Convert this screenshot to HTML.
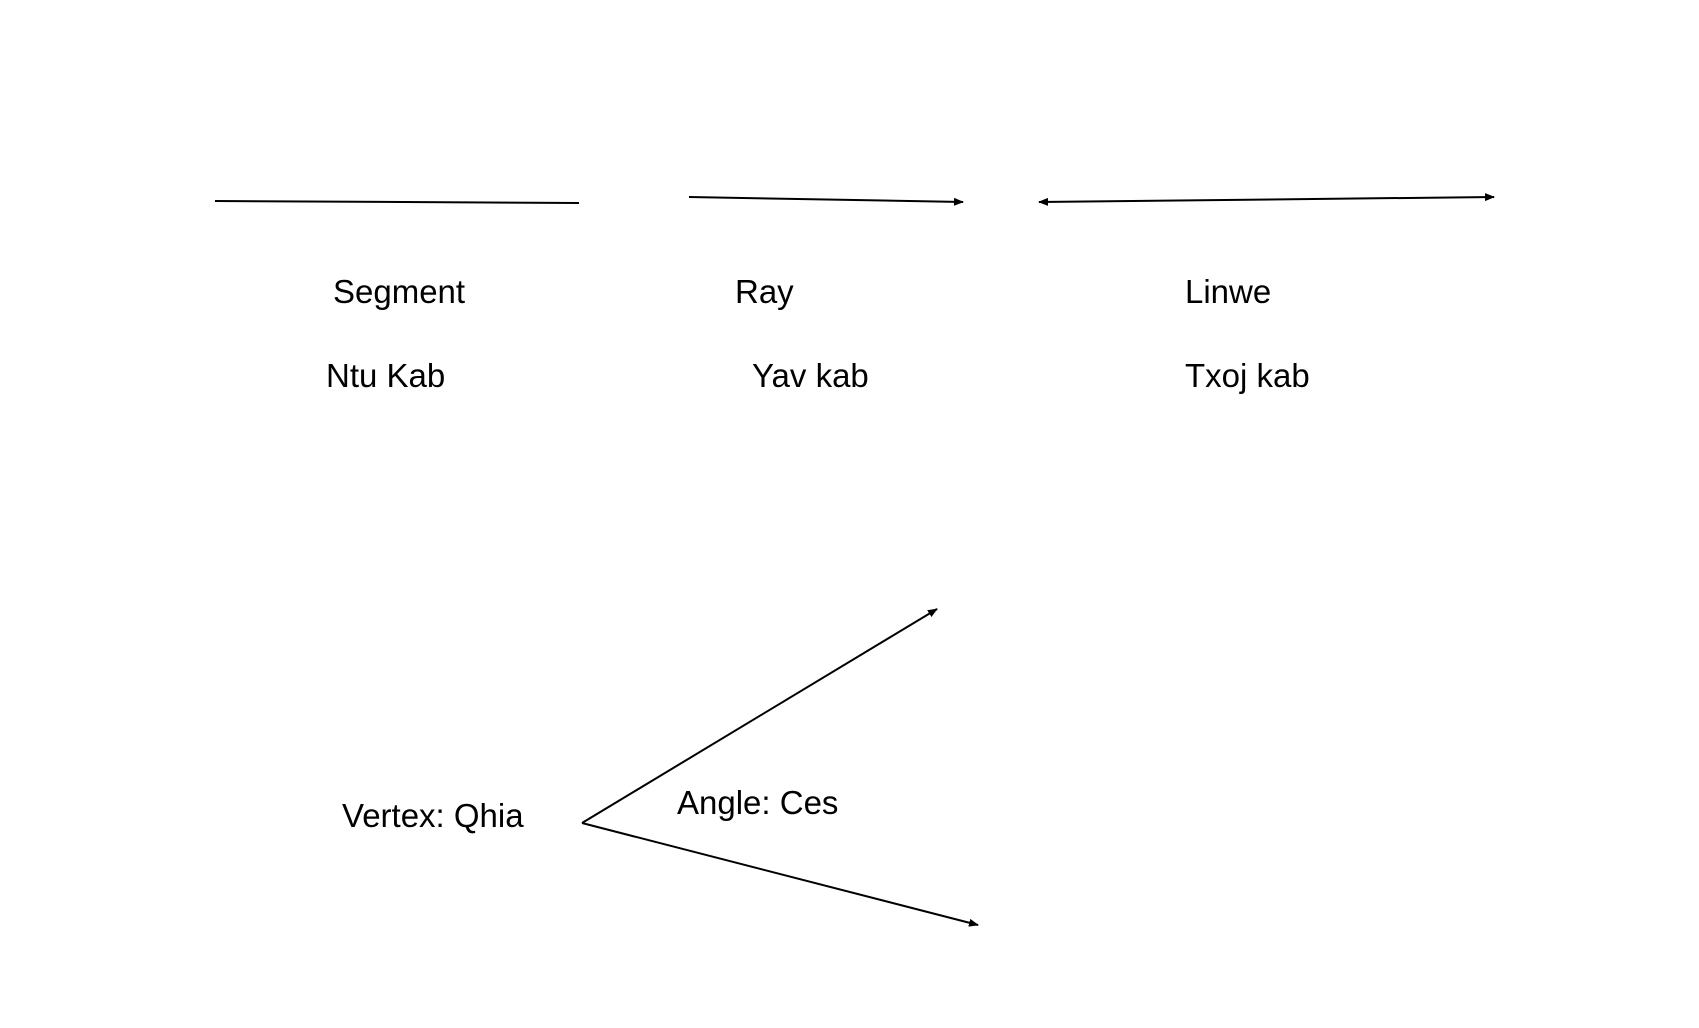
<!DOCTYPE html>
<html><head><meta charset="utf-8"><style>html,body{margin:0;padding:0;background:#fff;}svg{display:block}</style></head>
<body>
<svg width="1699" height="1028" viewBox="0 0 1699 1028" xmlns="http://www.w3.org/2000/svg">
<defs>
<marker id="a" markerWidth="10" markerHeight="8" refX="9" refY="4" orient="auto-start-reverse" markerUnits="userSpaceOnUse">
<path d="M0,0 L10,4 L0,8 Z" fill="#000"/>
</marker>
</defs>
<g stroke="#000" stroke-width="2" fill="none">
<line x1="215" y1="201" x2="579" y2="203"/>
<line x1="689" y1="197" x2="963" y2="202" marker-end="url(#a)"/>
<line x1="1039" y1="202" x2="1494" y2="197" marker-start="url(#a)" marker-end="url(#a)"/>
<line x1="582" y1="823" x2="937" y2="609" marker-end="url(#a)"/>
<line x1="582" y1="823" x2="978" y2="925" marker-end="url(#a)"/>
</g>
<g font-family="Liberation Sans, sans-serif" font-size="33" fill="#000">
<text x="333" y="303">Segment</text>
<text x="326" y="387">Ntu Kab</text>
<text x="735" y="303">Ray</text>
<text x="752" y="387">Yav kab</text>
<text x="1185" y="303">Linwe</text>
<text x="1185" y="387">Txoj kab</text>
<text x="342" y="827">Vertex: Qhia</text>
<text x="677" y="814">Angle: Ces</text>
</g>
</svg>
</body></html>
